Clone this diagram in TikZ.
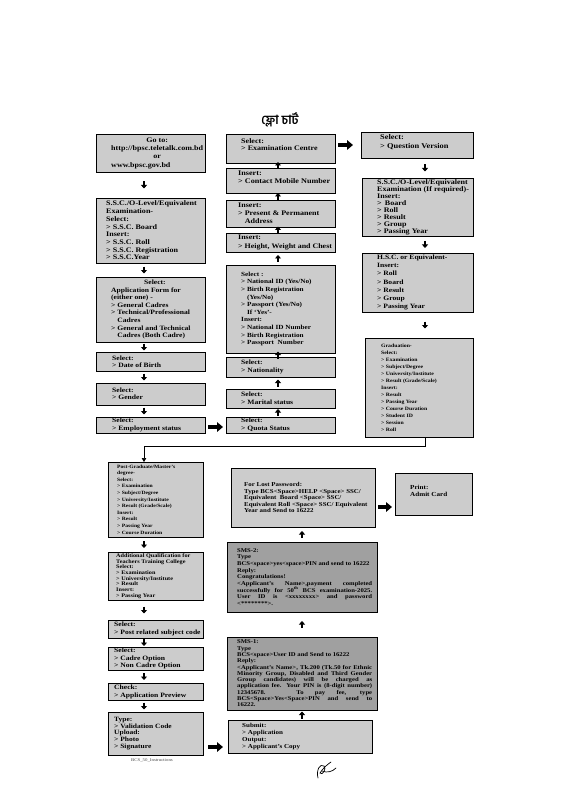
\documentclass[tikz,border=0pt]{standalone}
\usepackage{fontspec}
\setmainfont{Liberation Serif}[FakeStretch=1.15]
\newfontfamily\bnfont[Script=Bengali]{Hind Siliguri}
\usetikzlibrary{calc,arrows.meta}
\definecolor{boxgray}{RGB}{204,204,204}
\definecolor{smsgray}{RGB}{160,160,160}
\tikzset{
  box/.style={draw=black, line width=0.8pt, fill=boxgray, anchor=north west, inner sep=0pt, outer sep=0pt},
  txt/.style={anchor=west, inner sep=0pt, align=left},
  fz/.style 2 args={font=\bfseries\fontsize{#1}{#2}\selectfont},
  sarr/.style={line width=2pt, -{Triangle[length=3.5pt,width=6pt]}},
  barr/.style={line width=3.8pt, -{Triangle[length=6pt,width=9.5pt]}},
  conn/.style={line width=0.7pt, -{Triangle[length=4pt,width=4.5pt]}},
}
\newcommand\bx[6][]{\node[box,minimum width=#5pt,minimum height=#6pt,#1] (#2) at (#3,#4) {};}
\newcommand\tx[6][]{\node[txt,fz={#4}{#5},#1] (#2-t) at ([xshift=#3pt]#2.west) {#6};}
\newcommand\ind{\phantom{>\ }}
\newcommand\darr[3]{\path ($(#1.south)!.5!(#2.north)$) coordinate (tmpm);
  \path (tmpm -| #3) coordinate (tmpa);
  \draw[sarr] ([yshift=3.5pt]tmpa) -- ([yshift=-3.5pt]tmpa);}
\newcommand\uarr[3]{\path ($(#1.north)!.5!(#2.south)$) coordinate (tmpm);
  \path (tmpm -| #3) coordinate (tmpa);
  \draw[sarr] ([yshift=-3.5pt]tmpa) -- ([yshift=3.5pt]tmpa);}
\begin{document}
\begin{tikzpicture}[x=1pt,y=-1pt]
\fill[white] (0,0) rectangle (565,799);
\useasboundingbox (0,0) rectangle (565,799);
\coordinate (lx) at (144,0);
\coordinate (mx) at (278,0);
\coordinate (rx) at (425,0);
\coordinate (bx) at (302,0);
\coordinate (ey) at (0,446);

\node[font=\bnfont\bfseries\fontsize{12.5}{14}\selectfont] (title) at (280,120) {ফ্লো চার্ট};

% left column
\bx{L1}{96}{134}{109}{38}
\tx{L1}{15}{7.0}{8.3}{\begin{tabular}{@{}l@{}}\multicolumn{1}{@{}c@{}}{Go to:}\\ http://bpsc.teletalk.com.bd\\ \multicolumn{1}{@{}c@{}}{or}\\ www.bpsc.gov.bd\end{tabular}}
\bx{L2}{96}{198}{109}{65}
\tx{L2}{10}{7.0}{7.7}{S.S.C./O-Level/Equivalent\\Examination-\\Select:\\> S.S.C. Board\\Insert:\\> S.S.C. Roll\\> S.S.C. Registration\\> S.S.C.Year}
\bx{L3}{96}{277}{109}{65}
\tx{L3}{15}{6.6}{7.6}{\hspace*{33pt}Select:\\Application Form for\\(either one) -\\> General Cadres\\> Technical/Professional\\\ind Cadres\\> General and Technical\\\ind Cadres (Both Cadre)}
\bx{L4}{96}{352}{109}{19}
\tx{L4}{16}{6.6}{7}{Select:\\> Date of Birth}
\bx{L5}{96}{383}{109}{22}
\tx{L5}{16}{6.6}{7.3}{Select:\\> Gender}
\bx{L6}{96}{417}{109}{16}
\tx{L6}{16}{6.6}{7.3}{Select:\\> Employment status}

% middle column
\bx{M1}{226}{134}{109}{29}
\tx[yshift=4pt]{M1}{15}{7.0}{7.2}{Select:\\> Examination Centre}
\bx{M2}{226}{168}{109}{25}
\tx[yshift=3pt]{M2}{12}{7.1}{8.3}{Insert:\\> Contact Mobile Number}
\bx{M3}{226}{200}{109}{27}
\tx{M3}{12}{7.0}{8}{Insert:\\> Present \& Permanent\\\ind Address}
\bx{M4}{226}{233}{109}{19}
\tx{M4}{12}{6.9}{8.3}{Insert:\\> Height, Weight and Chest}
\bx{M5}{226}{265}{109}{88}
\tx{M5}{15}{6.3}{7.6}{Select :\\> National ID (Yes/No)\\> Birth Registration\\\ind (Yes/No)\\> Passport (Yes/No)\\\ind If `Yes'-\\Insert:\\> National ID Number\\> Birth Registration\\> Passport\ \ Number}
\bx{M6}{226}{357}{109}{20}
\tx{M6}{15}{6.6}{8.3}{Select:\\> Nationality}
\bx{M7}{226}{389}{109}{19}
\tx{M7}{15}{6.6}{7.7}{Select:\\> Marital status}
\bx{M8}{226}{417}{109}{16}
\tx{M8}{15}{6.6}{8}{Select:\\> Quota Status}

% right column
\bx{R1}{361}{132}{112}{26}
\tx[yshift=3pt]{R1}{19}{7.3}{8.5}{Select:\\> Question Version}
\bx{R2}{362}{178}{111}{58}
\tx{R2}{15}{7.0}{7.0}{S.S.C./O-Level/Equivalent\\Examination (If required)-\\Insert:\\> \,Board\\> Roll\\> Result\\> Group\\> Passing Year}
\bx{R3}{362}{253}{111}{59}
\tx{R3}{15}{6.6}{8.3}{H.S.C. or Equivalent-\\Insert:\\> Roll\\> Board\\> Result\\> Group\\> Passing Year}
\bx{R4}{365}{338}{108}{99}
\tx{R4}{16}{5.0}{7.0}{Graduation-\\Select:\\> Examination\\> Subject/Degree\\> University/Institute\\> Result (Grade/Scale)\\Insert:\\> Result\\> Passing Year\\> Course Duration\\> Student ID\\> Session\\> Roll}

% lower left column
\bx{PG}{108}{462}{95}{75}
\tx{PG}{9}{4.9}{6.6}{Post-Graduate/Master's\\degree-\\Select:\\> Examination\\> Subject/Degree\\> University/Institute\\> Result (Grade/Scale)\\Insert:\\> Result\\> Passing Year\\> Course Duration}
\bx{AQ}{108}{552}{95}{48}
\tx{AQ}{8}{5.4}{5.7}{Additional Qualification for\\Teachers Training College\\Select:\\> Examination\\> University/Institute\\> Result\\Insert:\\> Passing Year}
\bx{PR}{108}{620}{95}{18}
\tx{PR}{6}{6.6}{7.7}{Select:\\> Post related subject code}
\bx{CO}{108}{647}{95}{23}
\tx{CO}{6}{6.6}{7.8}{Select:\\> Cadre Option\\> Non Cadre Option}
\bx{CK}{108}{683}{95}{17}
\tx{CK}{6}{6.6}{8}{Check:\\> Application Preview}
\bx{TY}{108}{712}{95}{43}
\tx{TY}{6}{6.5}{6.8}{Type:\\> Validation Code\\Upload:\\> Photo\\> Signature}

% lower middle
\bx{LP}{231}{468}{144}{59}
\tx{LP}{13}{6.0}{6.5}{For Lost Password:\\Type BCS<Space>HELP <Space> SSC/\\Equivalent\ \ Board <Space> SSC/\\Equivalent Roll <Space> SSC/ Equivalent\\Year and Send to 16222}
\bx{PA}{395}{473}{77}{42}
\tx[yshift=3pt]{PA}{15}{6.2}{6.5}{Print:\\Admit Card}
\bx[fill=smsgray]{S2}{227}{542}{150}{70}
\node[txt,fz={5.8}{6.7},text width=135pt,align=justify] (S2-t) at ([xshift=10pt]S2.west)
 {\parindent0pt SMS-2:\par Type\par BCS<space>yes<space>PIN and send to 16222\par Reply:\par Congratulations!\par
  <Applicant's Name>,payment completed\linebreak successfully for 50\textsuperscript{th} BCS examination-2025.\linebreak User ID is <xxxxxxxx> and password\linebreak <********>.\par};
\bx[fill=smsgray]{S1}{227}{637}{150}{73}
\node[txt,fz={5.8}{6.3},text width=135pt,align=justify] (S1-t) at ([xshift=10pt]S1.west)
 {\parindent0pt SMS-1:\par Type\par BCS<space>User ID and Send to 16222\par Reply:\par
  <Applicant's Name>, Tk.200 (Tk.50 for Ethnic\linebreak Minority Group, Disabled and Third Gender\linebreak Group candidates) will be charged as\linebreak application fee. Your PIN is (8-digit number)\linebreak 12345678. To pay fee, type\linebreak BCS<Space>Yes<Space>PIN and send to\linebreak 16222.\par};
\bx{SU}{228}{720}{144}{33}
\tx{SU}{14}{6.1}{7.1}{Submit:\\> Application\\Output:\\> Applicant's Copy}

% small arrows
\darr{L1}{L2}{lx}
\darr{L2}{L3}{lx}
\darr{L3}{L4}{lx}
\darr{L4}{L5}{lx}
\darr{L5}{L6}{lx}
\uarr{M2}{M1}{mx}
\uarr{M3}{M2}{mx}
\uarr{M4}{M3}{mx}
\uarr{M5}{M4}{mx}
\uarr{M6}{M5}{mx}
\uarr{M7}{M6}{mx}
\uarr{M8}{M7}{mx}
\darr{R1}{R2}{rx}
\darr{R2}{R3}{rx}
\darr{R3}{R4}{rx}
\darr{PG}{AQ}{lx}
\darr{AQ}{PR}{lx}
\darr{PR}{CO}{lx}
\darr{CO}{CK}{lx}
\darr{CK}{TY}{lx}
\uarr{S2}{LP}{bx}
\uarr{S1}{S2}{bx}
\uarr{SU}{S1}{bx}

% big arrows
\draw[barr,shorten <=3pt,shorten >=8pt] (M1.east |- R1.west) -- (R1.west);
\draw[barr,shorten <=3pt,shorten >=3pt] ([yshift=-2pt]L6.east) -- ([yshift=-2pt]L6.east -| M8.west);
\path ([yshift=-9.5pt]LP.east) coordinate (lpa);
\draw[barr,shorten <=3pt,shorten >=3pt] (lpa) -- (lpa -| PA.west);
\path ([yshift=-13.5pt]TY.east) coordinate (tya);
\draw[barr,shorten <=5pt,shorten >=5pt] (tya) -- (tya -| SU.west);

% elbow connector graduation -> post-graduate
\draw[conn] (R4.south -| rx) -- (rx |- ey) -- (lx |- ey) -- (PG.north -| lx);

% footer and signature
\node[font=\fontsize{4.2}{5}\selectfont, text=black!70] (foot) at (152,760) {BCS\_50\_Instructions};
\draw[line width=0.7pt, line cap=round] (318,778) .. controls (316,770) and (320,763) .. (324,766) .. controls (327,769) and (322,776) .. (320,773) .. controls (323,768) and (328,764) .. (331,762);
\draw[line width=0.7pt, line cap=round] (322,771) .. controls (327,773) and (332,772) .. (336,768);
\end{tikzpicture}
\end{document}
